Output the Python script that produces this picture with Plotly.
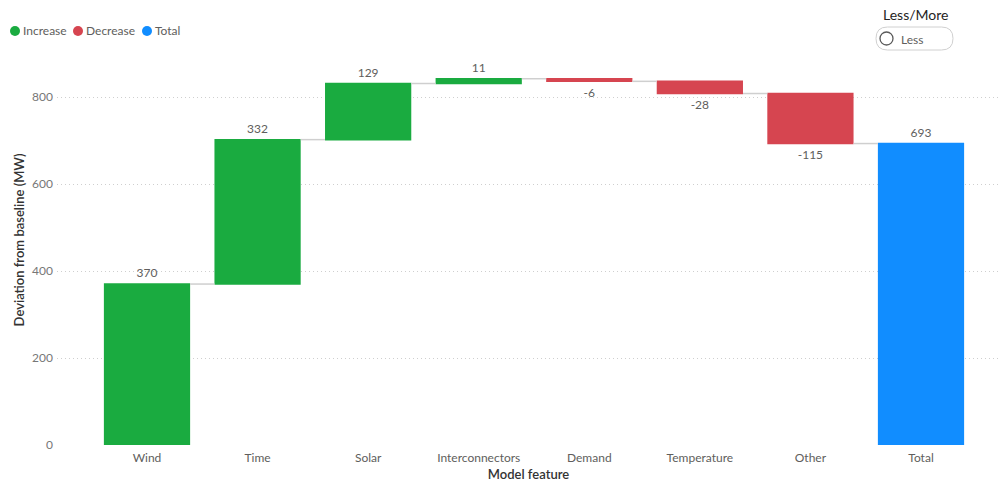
import plotly.graph_objects as go

# Waterfall data: contribution of each model feature to the deviation (MW)
features = ["Wind", "Time", "Solar", "Interconnectors", "Demand", "Temperature", "Other", "Total"]
contributions = [370, 332, 129, 11, -6, -28, -115, 693]
measures = ["relative"] * 7 + ["total"]
labels = [str(v) for v in contributions]

legend_names = ["Increase", "Decrease", "Total"]
legend_colors = ["#1AAB40", "#D64550", "#118DFF"]

W, H = 1000, 482
ML, MR, MT, MB = 57, 0, 35, 37
PW, PH = W - ML - MR, H - MT - MB


def px_x(px):
    return (px - ML) / PW


def px_y(py):
    return (H - MB - py) / PH


FONT = "Lato"
GREY = "#605E5C"
DARK = "#333333"

fig = go.Figure()

fig.add_trace(go.Waterfall(
    x=features,
    y=contributions,
    measure=measures,
    text=labels,
    textposition="outside",
    textfont=dict(family=FONT, size=12, color=GREY),
    cliponaxis=False,
    width=0.78,
    increasing=dict(marker=dict(color=legend_colors[0])),
    decreasing=dict(marker=dict(color=legend_colors[1])),
    totals=dict(marker=dict(color=legend_colors[2])),
    connector=dict(line=dict(color="#CFCFCF", width=1.5)),
    showlegend=False,
    hoverinfo="x+y",
))

shapes = []
annotations = []

# Legend row: coloured dots with labels
legend_dot_px = [15, 78, 147]
for name, col, cx in zip(legend_names, legend_colors, legend_dot_px):
    shapes.append(dict(
        type="circle", xref="paper", yref="paper",
        xsizemode="pixel", ysizemode="pixel",
        xanchor=px_x(cx), yanchor=px_y(31),
        x0=-5, x1=5, y0=-5, y1=5,
        fillcolor=col, line=dict(width=0),
    ))
    annotations.append(dict(
        text=name, xref="paper", yref="paper",
        x=px_x(cx + 6), y=px_y(31), xanchor="left", yanchor="middle",
        showarrow=False, font=dict(family=FONT, size=12, color=GREY),
    ))

# Less/More toggle
annotations.append(dict(
    text="Less/More", xref="paper", yref="paper",
    x=px_x(915), y=px_y(15), xanchor="center", yanchor="middle",
    showarrow=False, font=dict(family=FONT, size=14, color="#252423"),
))
x0b, x1b, y0b, y1b, r = 876, 953, 27, 50, 11.5


def pt(px, py):
    return f"{px_x(px):.5f},{px_y(py):.5f}"


path = (
    f"M{pt(x0b + r, y0b)} L{pt(x1b - r, y0b)} Q{pt(x1b, y0b)} {pt(x1b, y0b + r)} "
    f"Q{pt(x1b, y1b)} {pt(x1b - r, y1b)} L{pt(x0b + r, y1b)} "
    f"Q{pt(x0b, y1b)} {pt(x0b, y1b - r)} Q{pt(x0b, y0b)} {pt(x0b + r, y0b)} Z"
)
shapes.append(dict(type="path", xref="paper", yref="paper", path=path,
                   line=dict(color="#D0D0D0", width=1), fillcolor="white"))
shapes.append(dict(
    type="circle", xref="paper", yref="paper",
    xsizemode="pixel", ysizemode="pixel",
    xanchor=px_x(886.5), yanchor=px_y(38.5),
    x0=-6.5, x1=6.5, y0=-6.5, y1=6.5,
    line=dict(color="#5A5A5A", width=1.3), fillcolor="white",
))
annotations.append(dict(
    text="Less", xref="paper", yref="paper",
    x=px_x(899), y=px_y(39), xanchor="left", yanchor="middle",
    showarrow=False, font=dict(family=FONT, size=12, color=GREY),
))

cat_w = (921 - 147) / 7
fig.update_layout(
    width=W, height=H,
    margin=dict(l=ML, r=MR, t=MT, b=MB, autoexpand=False),
    paper_bgcolor="white", plot_bgcolor="white",
    font=dict(family=FONT, color=GREY),
    shapes=shapes, annotations=annotations,
    showlegend=False,
    xaxis=dict(
        range=[-(147 - ML) / cat_w, (W - 147) / cat_w],
        showgrid=False, zeroline=False, showline=False, ticks="",
        tickfont=dict(family=FONT, size=12, color=GREY),
        ticklabelstandoff=4,
        title=dict(text="Model feature", font=dict(family=FONT, size=13, color=DARK, weight=600), standoff=9),
        automargin=False,
    ),
    yaxis=dict(
        range=[0, PH / 0.435],
        tickvals=[0, 200, 400, 600, 800],
        showgrid=True, gridcolor="#CFCFCF", griddash="1px,3px", gridwidth=1,
        zeroline=False, showline=False, ticks="",
        tickfont=dict(family=FONT, size=12, color="#777777"),
        ticklabelstandoff=3,
        title=dict(text="Deviation from baseline (MW)", font=dict(family=FONT, size=13, color=DARK, weight=600), standoff=4),
        automargin=False,
    ),
)

fig.write_html("out.html")
